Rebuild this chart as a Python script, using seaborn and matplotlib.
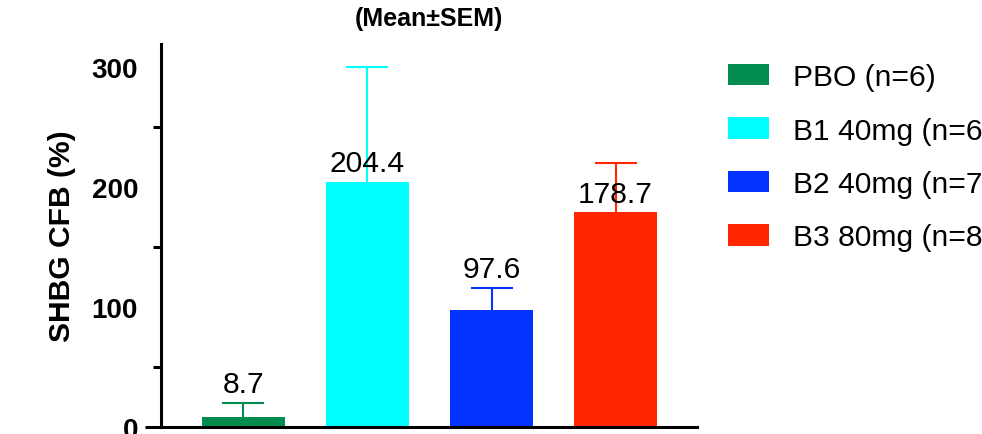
import numpy as np
import pandas as pd
import matplotlib
matplotlib.use("Agg")
import matplotlib.pyplot as plt
from matplotlib.patches import Patch
from matplotlib.ticker import MultipleLocator
import seaborn as sns

# Group summary: SHBG change from baseline (%), mean and SEM
groups = ["PBO (n=6)", "B1 40mg (n=6)", "B2 40mg (n=7)", "B3 80mg (n=8)"]
means = [8.7, 204.4, 97.6, 178.7]
sems = [11.3, 95.6, 18.0, 41.0]
colors = ["#008C4F", "#00FFFF", "#0433FF", "#FF2600"]

sns.set_theme(style="white")
plt.rcParams["font.family"] = ["Liberation Sans", "DejaVu Sans"]
plt.rcParams.update({"text.color": "black", "axes.labelcolor": "black",
                     "xtick.color": "black", "ytick.color": "black"})

df = pd.DataFrame({"group": groups, "mean": means, "sem": sems})

fig = plt.figure(figsize=(9.82, 4.35), dpi=100)
ax = fig.add_axes([161 / 982, 7 / 435, (697 - 161) / 982, (428 - 45) / 435])

sns.barplot(data=df, x="group", y="mean", hue="group", palette=colors,
            width=0.67, dodge=False, legend=False, saturation=1,
            linewidth=0, ax=ax)

# Upper-only SEM whiskers in each bar's colour
xpos = np.arange(len(groups))
for x, m, s, c in zip(xpos, means, sems, colors):
    eb = ax.errorbar(x, m, yerr=[[0], [s]], fmt="none", ecolor=c,
                     elinewidth=1.5, capsize=14.8, capthick=1.5, zorder=3)
    eb[1][0].set_visible(False)  # no cap at the bar top

# Value labels: above the whisker when it is short, otherwise above the bar
for x, m, s in zip(xpos, means, sems):
    base = m + s if s < 30 else m
    ax.text(x, base + 9, f"{m:.1f}", ha="center", va="baseline",
            fontsize=21.6, color="black", zorder=4)

ax.set_xlim(-0.665, 3.657)
ax.set_ylim(0, 319)
ax.yaxis.set_major_locator(MultipleLocator(100))
ax.yaxis.set_minor_locator(MultipleLocator(50))
ax.set_xticks([])
ax.set_xlabel("")
ax.set_ylabel("SHBG CFB (%)", fontsize=21.6, fontweight="bold", labelpad=11)
ax.set_title("(Mean±SEM)", fontsize=18, fontweight="bold", pad=14)

for side in ("top", "right"):
    ax.spines[side].set_visible(False)
for side in ("left", "bottom"):
    ax.spines[side].set_linewidth(2.2)
    ax.spines[side].set_color("black")

ax.tick_params(axis="y", which="major", direction="out", length=11.5,
               width=2.2, color="black", labelsize=20, pad=5)
ax.tick_params(axis="y", which="minor", direction="out", length=5.8,
               width=2.2, color="black", left=True)
for lbl in ax.get_yticklabels():
    lbl.set_fontweight("bold")

# x-axis line continues out to the tick ends
ax.plot([-16 / 536, 0], [0, 0], transform=ax.transAxes, color="black",
        lw=2.2, clip_on=False, solid_capstyle="butt")

handles = [Patch(facecolor=c, edgecolor="none", label=g)
           for g, c in zip(groups, colors)]
fig.legend(handles=handles, loc="upper left",
           bbox_to_anchor=(728 / 982, 1 - 64 / 435), frameon=False,
           fontsize=21.6, handlelength=1.37, handleheight=0.73,
           handletextpad=0.8, labelspacing=0.85, borderpad=0,
           borderaxespad=0)

fig.savefig("out.png", dpi=100)
